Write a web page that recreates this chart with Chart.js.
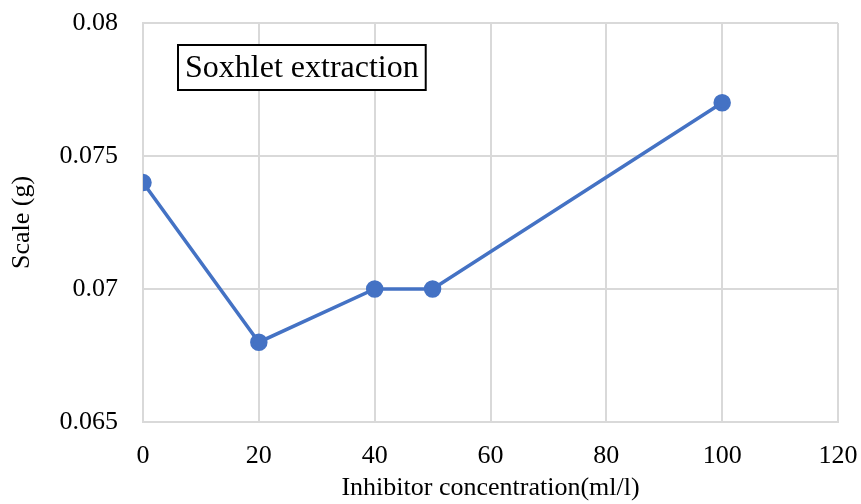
<!DOCTYPE html>
<html>
<head>
<meta charset="utf-8">
<script src="https://cdn.jsdelivr.net/npm/chart.js@4/dist/chart.umd.min.js"></script>
<style>
  html, body { margin: 0; padding: 0; background: #fff; }
  #wrap { width: 861px; height: 504px; }
</style>
</head>
<body>
<div id="wrap"><canvas id="scaleChart" width="861" height="504"></canvas></div>
<script>
const concentrations = [0, 20, 40, 50, 100];
const scaleGrams = [0.074, 0.068, 0.070, 0.070, 0.077];
const chartLabel = "Soxhlet extraction";

const serif = "'Liberation Serif', 'Times New Roman', serif";
const gridColor = "#d9d9d9";

// boxed label in upper-left of the plot
const boxLabel = {
    id: "boxLabel",
    afterDraw(chart) {
        const ctx = chart.ctx;
        const area = chart.chartArea;
        ctx.save();
        ctx.font = "32px " + serif;
        const w = ctx.measureText(chartLabel).width + 14;
        const x = area.left + 35, y = area.top + 22, h = 45;
        ctx.fillStyle = "#fff";
        ctx.fillRect(x, y, w, h);
        ctx.strokeStyle = "#000";
        ctx.lineWidth = 2;
        ctx.strokeRect(x, y, w, h);
        ctx.fillStyle = "#000";
        ctx.textBaseline = "middle";
        ctx.fillText(chartLabel, x + 7, y + h / 2 + 1);
        ctx.restore();
    }
};

const ctx = document.getElementById("scaleChart").getContext("2d");

new Chart(ctx, {
    type: "line",
    data: {
        datasets: [{
            label: chartLabel,
            data: concentrations.map((c, i) => ({ x: c, y: scaleGrams[i] })),
            borderColor: "#4472C4",
            backgroundColor: "#4472C4",
            borderWidth: 3.5,
            pointRadius: 7,
            pointHoverRadius: 7,
            fill: false,
            tension: 0
        }]
    },
    options: {
        responsive: false,
        animation: false,
        layout: { padding: { top: 23, right: 23, left: 0, bottom: 0 } },
        plugins: {
            legend: { display: false },
            tooltip: { enabled: false }
        },
        scales: {
            x: {
                type: "linear",
                min: 0,
                max: 120,
                afterFit: s => { s.height = 82; s.paddingLeft = 0; s.paddingRight = 0; },
                ticks: {
                    stepSize: 20,
                    padding: 19,
                    color: "#000",
                    font: { family: serif, size: 26 }
                },
                grid: { color: gridColor, lineWidth: 2, drawTicks: false },
                border: { color: gridColor, width: 2 },
                title: {
                    display: true,
                    text: "Inhibitor concentration(ml/l)",
                    color: "#000",
                    font: { family: serif, size: 26 },
                    padding: { top: 0, bottom: 0 }
                }
            },
            y: {
                min: 0.065,
                max: 0.08,
                afterFit: s => { s.width = 143; s.paddingTop = 0; s.paddingBottom = 0; },
                ticks: {
                    stepSize: 0.005,
                    padding: 25,
                    color: "#000",
                    font: { family: serif, size: 26 },
                    callback: v => String(+v.toFixed(3))
                },
                grid: { color: gridColor, lineWidth: 2, drawTicks: false },
                border: { color: gridColor, width: 2 },
                title: {
                    display: true,
                    text: "Scale (g)",
                    color: "#000",
                    font: { family: serif, size: 26 },
                    padding: { top: 7, bottom: 0 }
                }
            }
        }
    },
    plugins: [boxLabel]
});
</script>
</body>
</html>
